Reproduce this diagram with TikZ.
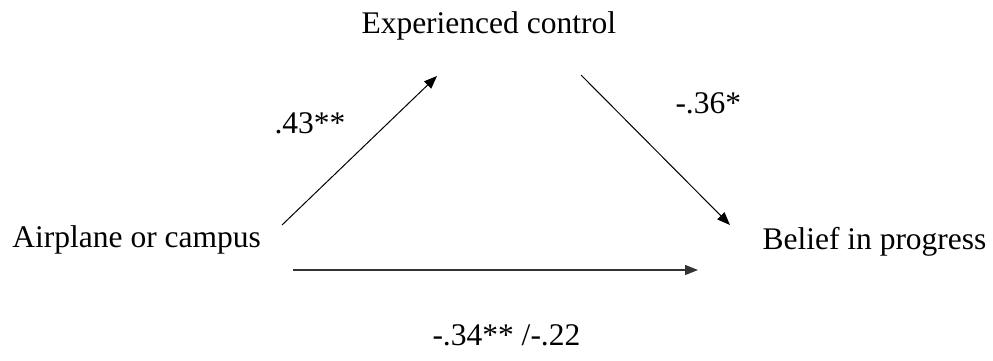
\documentclass[tikz,border=0pt]{standalone}
\usepackage{fontspec}
\setmainfont{Liberation Serif}
\usetikzlibrary{arrows.meta}

\begin{document}
\begin{tikzpicture}[x=1pt, y=1pt, >={Triangle[length=13pt,width=10pt]}, line width=1pt, var node/.style={inner sep=0pt, anchor=base west, font=\fontsize{31.5}{36}\selectfont}, coef node/.style={var node}]
        \useasboundingbox (0,0) rectangle (993,360);
        \node[var node] (ctrl) at (361,327) {Experienced control};
        \node[var node] (cond) at (12,113) {Airplane or campus};
        \node[var node] (belief) at (762,111) {Belief in progress};
        \node[coef node] (a) at (274,227) {.43**};
        \node[coef node] (b) at (675,247) {-.36*};
        \node[coef node] (c) at (432,15) {-.34** /-.22};
        \coordinate (a1) at (282,135);
        \coordinate (a2) at (437,284);
        \coordinate (b1) at (581,285);
        \coordinate (b2) at (730,135);
        \coordinate (c1) at (293,90);
        \coordinate (c2) at (698,90);
        \path[->]
        (a1) edge (a2)
        (b1) edge (b2)
        (c1) edge[line width=1.3pt, black!80] (c2);
    \end{tikzpicture}
\end{document}
